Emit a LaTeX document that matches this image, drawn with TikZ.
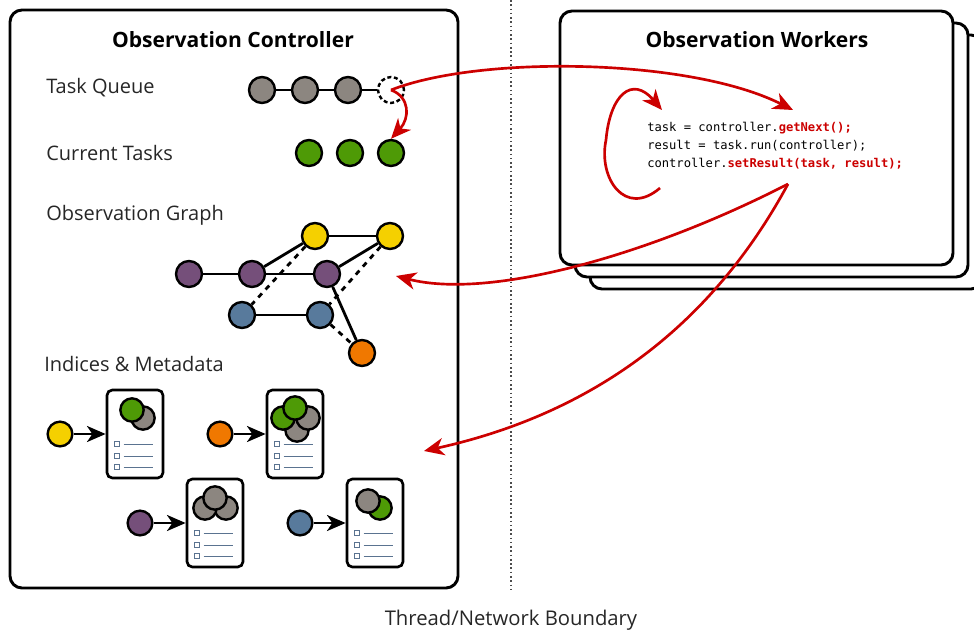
\documentclass[tikz,border=0pt]{standalone}
\usepackage{fontspec}
\setmainfont{Open Sans}
\setmonofont{DejaVu Sans Mono}
\usetikzlibrary{arrows.meta,backgrounds,positioning}

\definecolor{obsred}{HTML}{CC0000}
\definecolor{taskgray}{HTML}{8C8680}
\definecolor{taskgreen}{HTML}{4E9A06}
\definecolor{nodeyellow}{HTML}{F5D000}
\definecolor{nodepurple}{HTML}{754F7A}
\definecolor{nodeblue}{HTML}{587A9C}
\definecolor{nodeorange}{HTML}{F07800}
\definecolor{listblue}{HTML}{5A7390}

\tikzset{
        box/.style={draw, line width=2.2pt, rounded corners=9pt, fill=white},
        card/.style={draw, line width=2pt, rounded corners=4pt, fill=white,
                minimum width=42pt, minimum height=66pt, inner sep=0pt},
        dot/.style={circle, draw, line width=1.8pt, minimum size=19.5pt, inner sep=0pt},
        chip/.style={dot, minimum size=17.5pt},
        title/.style={font=\fontsize{15.8}{19}\selectfont\bfseries},
        rowlabel/.style={anchor=west, inner sep=0pt, text=black!85, font=\fontsize{15}{18}\selectfont},
        code/.style={anchor=west, inner sep=0pt, align=left, font=\fontsize{9.1}{13.5}\selectfont\ttfamily},
        edge/.style={line width=2.1pt},
        link/.style={edge, dashed, dash pattern=on 4pt off 4pt},
        pointer/.style={line width=2pt, -{Stealth[length=14pt, width=12pt, inset=4pt]}},
        flow/.style={draw=obsred, line width=2pt, -{Stealth[length=15pt, width=13pt, inset=4.5pt]}},
        listbox/.style={draw=listblue, line width=0.8pt, minimum size=3.8pt, inner sep=0pt},
        listline/.style={draw=listblue, line width=1pt}
}

\begin{document}
\begin{tikzpicture}[x=0.75pt, y=-0.75pt]
        \useasboundingbox (0, 0) rectangle (974, 635);
        \clip (0, 0) rectangle (974, 635);

        % boundary
        \draw[dotted, line width=1.2pt, black!70] (511, 0) -- (511, 592);
        \node[text=black!85, font=\fontsize{15.2}{18}\selectfont] (boundary) at (511, 620) {Thread/Network Boundary};

        % worker stack
        \foreach \s in {30, 15, 0}
                \draw[box] (560+\s, 11+0.8*\s) rectangle (953+\s, 265+0.8*\s);
        \node[title] (workers) at (757, 40) {Observation Workers};
        \node[code] (loopcode) at (647, 146)
                {task = controller.\textcolor{obsred}{\bfseries getNext();}\\
                 result = task.run(controller);\\
                 controller.\textcolor{obsred}{\bfseries setResult(task, result);}};

        % controller
        \draw[box, fill=none] (10, 10) rectangle (458, 588);
        \node[title] (controller) at (233, 40) {Observation Controller};

        \node[rowlabel] (queuelbl) at (46, 88) {Task Queue};
        \node[rowlabel] (currentlbl) at (46, 153) {Current Tasks};
        \node[rowlabel] (graphlbl) at (46, 215) {Observation Graph};
        \node[rowlabel] (indexlbl) at (44, 364) {Indices \& Metadata};

        % task queue and current tasks
        \foreach \n/\x in {q1/262, q2/305, q3/348}
                \node[dot, fill=taskgray] (\n) at (\x, 90) {};
        \node[dot, dashed, dash pattern=on 3pt off 2pt] (q4) at (391, 90) {};
        \draw[edge] (q1) -- (q2) -- (q3) -- (q4);
        \foreach \n/\x in {c1/309, c2/350, c3/391}
                \node[dot, fill=taskgreen] (\n) at (\x, 153) {};

        % observation graph
        \foreach \n/\x/\y/\c in {y1/315/236/nodeyellow, y2/390/236/nodeyellow,
                        p1/189/274/nodepurple, p2/252/274/nodepurple, p3/327/274/nodepurple,
                        b1/242/315/nodeblue, b2/320/315/nodeblue, o1/362/353/nodeorange}
                \node[dot, fill=\c] (\n) at (\x, \y) {};
        \begin{scope}[on background layer]
                \foreach \a/\b in {p1/p2, p2/p3, p2/y1, y1/y2, p3/y2, b1/b2, p3/o1}
                        \draw[edge] (\a) -- (\b);
                \foreach \a/\b in {y1/b1, y2/b2, b2/o1}
                        \draw[link] (\a) -- (\b);
        \end{scope}

        % indices and metadata
        \foreach \n/\x/\y in {doc1/135/434, doc2/295/434, doc3/215/523, doc4/375/523}
                \node[card] (\n) at (\x, \y) {};
        \foreach \n/\x/\y/\c/\d in {iy/60/434/nodeyellow/doc1, io/220/434/nodeorange/doc2,
                        ip/140/523/nodepurple/doc3, ib/300/523/nodeblue/doc4} {
                \node[dot, minimum size=18.5pt, fill=\c] (\n) at (\x, \y) {};
                \draw[pointer] (\n) -- (\d);
        }
        \foreach \c in {doc1, doc2, doc3, doc4}
                \foreach \dy in {-35, -23, -12} {
                        \node[listbox] at ([shift={(11, \dy)}]\c.south west) {};
                        \draw[listline] ([shift={(18, \dy)}]\c.south west) -- ([shift={(47, \dy)}]\c.south west);
                }
        \foreach \n/\x/\y/\c in {k1b/143/418/taskgray, k1a/132/410/taskgreen,
                        k2d/297/430/taskgray, k2b/283/418/taskgreen, k2c/308/418/taskgray, k2a/295/408/taskgreen,
                        k3c/226/508/taskgray, k3b/205/508/taskgray, k3a/215/498/taskgray,
                        k4b/380/508/taskgreen, k4a/368/501/taskgray}
                \node[chip, fill=\c] (\n) at (\x, \y) {};

        % task flow between controller and workers
        \coordinate (getnext) at (793, 110);
        \coordinate (loopend) at (660, 188);
        \coordinate (loophead) at (662, 110);
        \coordinate (setresult) at (788, 184);
        \coordinate (graphin) at (396, 276);
        \coordinate (indexin) at (424, 451);

        \draw[flow] (q4.center) .. controls (410, 97) and (410, 118) .. (c3.north);
        \draw[flow] (q4.center) .. controls (480, 55) and (690, 58) .. (getnext);
        \draw[flow] (loopend) .. controls (625, 218) and (598, 178) .. (606, 140)
                .. controls (610, 95) and (632, 75) .. (loophead);
        \draw[flow] (setresult) .. controls (650, 255) and (490, 300) .. (graphin);
        \draw[flow] (setresult) .. controls (720, 310) and (610, 410) .. (indexin);
\end{tikzpicture}
\end{document}
